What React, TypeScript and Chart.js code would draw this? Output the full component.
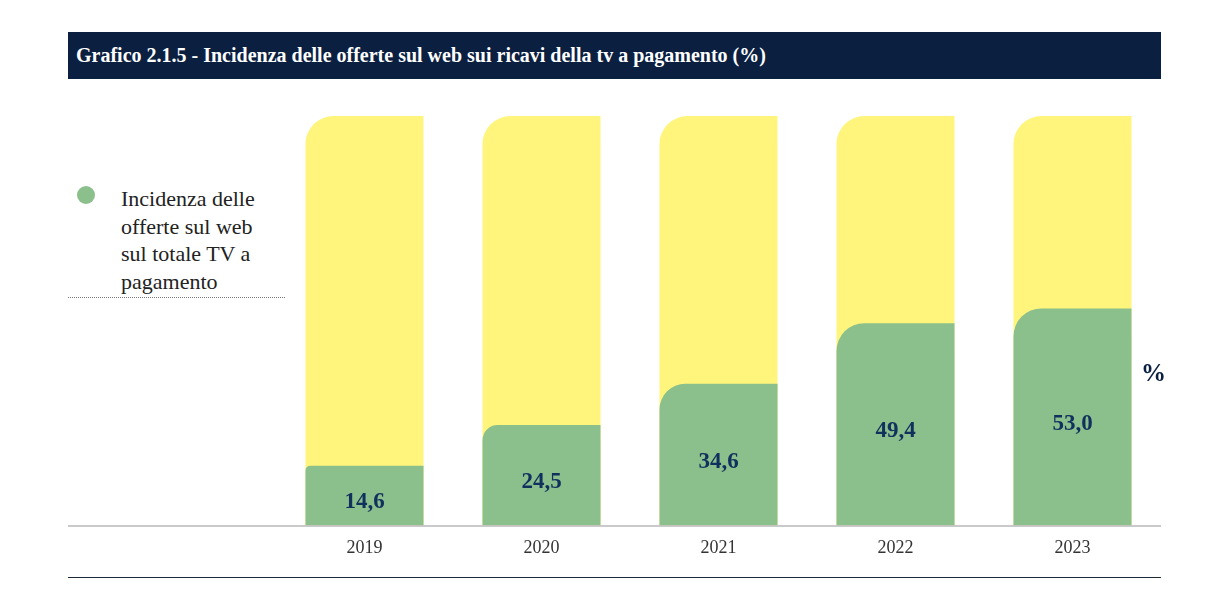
import React, { useEffect, useRef } from 'react'
import { Chart, registerables } from 'chart.js'

Chart.register(...registerables)

const years = ['2019', '2020', '2021', '2022', '2023']
const webShare = [14.6, 24.5, 34.6, 49.4, 53.0]
const totalShare = [100, 100, 100, 100, 100]

const NAVY = '#0b1f41'
const GREEN = '#8bbf8b'
const YELLOW = '#fff57c'
const SERIF = '"Liberation Serif", "DejaVu Serif", serif'

// corner radius grows with bar height, like the original
const cornerFor = (v: number) => Math.max(3, Math.min(28, (v - 10) * 1.05))

const labelPlugin = {
  id: 'greenLabels',
  afterDatasetsDraw(chart: any) {
    const { ctx } = chart
    const meta = chart.getDatasetMeta(0)
    ctx.save()
    ctx.font = `bold 23px ${SERIF}`
    ctx.fillStyle = '#10305e'
    ctx.textAlign = 'center'
    ctx.textBaseline = 'middle'
    meta.data.forEach((bar: any, i: number) => {
      const mid = (bar.y + bar.base) / 2
      ctx.fillText(webShare[i].toFixed(1).replace('.', ','), bar.x, mid + 7)
    })
    ctx.restore()
  },
}

const baselinePlugin = {
  id: 'fullBaseline',
  afterDraw(chart: any) {
    const { ctx, chartArea } = chart
    ctx.save()
    ctx.strokeStyle = '#b8b8b8'
    ctx.lineWidth = 1.5
    ctx.beginPath()
    ctx.moveTo(0, chartArea.bottom + 0.5)
    ctx.lineTo(chart.width, chartArea.bottom + 0.5)
    ctx.stroke()
    ctx.restore()
  },
}

const BarChart = () => {
  const chartRef = useRef<HTMLCanvasElement>(null)

  useEffect(() => {
    if (!chartRef.current) return
    const ctx = chartRef.current.getContext('2d')
    if (!ctx) return

    const chart = new Chart(ctx, {
      type: 'bar',
      data: {
        labels: years,
        datasets: [
          {
            label: 'Incidenza delle offerte sul web sul totale TV a pagamento',
            data: webShare,
            backgroundColor: GREEN,
            grouped: false,
            borderRadius: (c: any) => ({
              topLeft: cornerFor(c.raw ?? 0),
              topRight: 0,
              bottomLeft: 0,
              bottomRight: 0,
            }),
          },
          {
            label: 'Totale',
            data: totalShare,
            backgroundColor: YELLOW,
            grouped: false,
            borderRadius: { topLeft: 28, topRight: 0, bottomLeft: 0, bottomRight: 0 },
          },
        ],
      },
      options: {
        animation: false,
        responsive: true,
        maintainAspectRatio: false,
        layout: { padding: { left: 208, right: 0, top: 16, bottom: 12 } },
        datasets: {
          bar: { categoryPercentage: 1, barPercentage: 0.667 },
        },
        scales: {
          x: {
            grid: { display: false },
            border: { display: false },
            ticks: {
              color: '#333',
              padding: 4,
              font: { family: SERIF, size: 18 },
            },
          },
          y: { display: false, min: 0, max: 100 },
        },
        plugins: {
          legend: { display: false },
          tooltip: { enabled: false },
        },
      },
      plugins: [labelPlugin, baselinePlugin],
    } as any)

    return () => {
      chart.destroy()
    }
  }, [])

  return (
    <div style={{ position: 'absolute', left: 68, top: 100, width: 1093, height: 475 }}>
      <canvas ref={chartRef} />
    </div>
  )
}

export default function App() {
  useEffect(() => {
    document.body.style.margin = '0'
  }, [])

  return (
    <div style={{ position: 'relative', width: 1223, height: 609, background: '#fff', fontFamily: SERIF }}>
      <div
        style={{
          position: 'absolute', left: 68, top: 32, width: 1093, height: 47,
          background: NAVY, color: '#fff', fontWeight: 'bold', fontSize: 20,
          lineHeight: '47px', paddingLeft: 8, boxSizing: 'border-box',
          whiteSpace: 'nowrap',
        }}
      >
        Grafico 2.1.5 - Incidenza delle offerte sul web sui ricavi della tv a pagamento (%)
      </div>

      <div style={{ position: 'absolute', left: 77, top: 186, width: 18, height: 18, borderRadius: 9, background: GREEN }} />
      <div style={{ position: 'absolute', left: 121, top: 185, width: 180, fontSize: 22, lineHeight: '27.5px', color: '#222' }}>
        Incidenza delle<br />offerte sul web<br />sul totale TV a<br />pagamento
      </div>
      <div style={{ position: 'absolute', left: 68, top: 297, width: 217, borderTop: '1px dotted #777' }} />

      <BarChart />

      <div style={{ position: 'absolute', left: 1141, top: 359, fontSize: 25, fontWeight: 'bold', color: NAVY }}>%</div>

      <div style={{ position: 'absolute', left: 68, top: 577, width: 1093, height: 0, borderTop: '1.5px solid #1c2836' }} />
    </div>
  )
}
